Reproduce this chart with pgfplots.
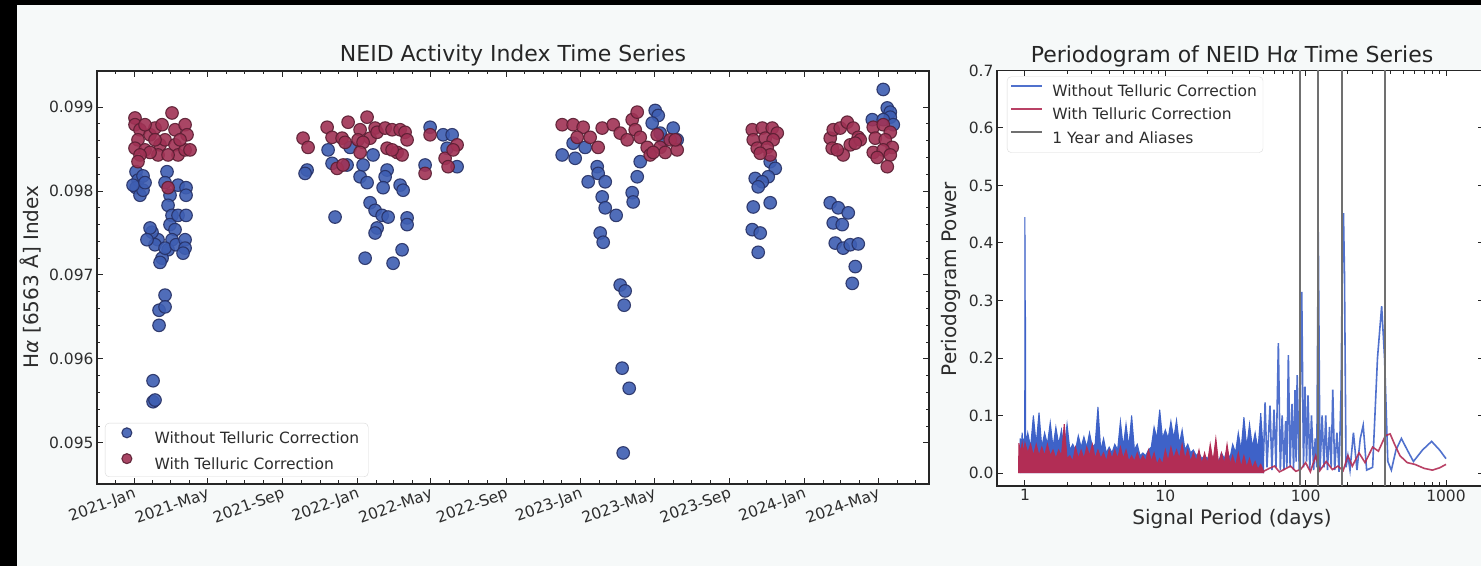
\documentclass[border=0pt]{standalone}
\usepackage{pgfplots}
\pgfplotsset{compat=1.18}
\usepackage{pgfplotstable}
\usepackage{fontspec}
\setmainfont{DejaVu Sans}

\definecolor{bg}{RGB}{246,249,249}
\definecolor{bluept}{RGB}{62,94,178}
\definecolor{blueedge}{RGB}{38,48,100}
\definecolor{redpt}{RGB}{160,50,85}
\definecolor{rededge}{RGB}{90,30,50}
\definecolor{pblue}{RGB}{62,98,200}
\definecolor{pred}{RGB}{178,45,85}
\definecolor{pgray}{RGB}{112,112,112}
\definecolor{txt}{RGB}{45,45,45}

\newcommand{\tickfont}{\fontsize{15.5bp}{18bp}\selectfont}
\newcommand{\labfont}{\fontsize{20bp}{24bp}\selectfont}
\newcommand{\titfont}{\fontsize{22bp}{26bp}\selectfont}

% days since 2021-01-01, H-alpha index
\pgfplotstableread{
day val
3.3 0.09823
6.5 0.09813
3.3 0.09804
9.8 0.09795
14.7 0.09818
14.7 0.09801
-1.6 0.09807
18.0 0.09810
53.9 0.09823
50.7 0.09810
58.8 0.09795
55.6 0.09783
62.1 0.09771
58.8 0.09760
67.0 0.09754
62.1 0.09742
55.6 0.09730
45.8 0.09720
39.2 0.09742
29.4 0.09751
34.3 0.09736
42.5 0.09715
50.7 0.09732
26.2 0.09756
21.2 0.09742
71.9 0.09807
71.9 0.09771
68.6 0.09736
85.0 0.09804
85.0 0.09795
85.0 0.09771
83.4 0.09742
83.4 0.09732
80.1 0.09726
50.7 0.09676
40.9 0.09658
50.7 0.09662
40.9 0.09640
31.1 0.09574
31.1 0.09549
34.3 0.09551
282.8 0.09825
279.5 0.09821
317.1 0.09849
323.6 0.09833
348.1 0.09831
353.1 0.09852
374.3 0.09831
369.4 0.09817
380.8 0.09810
390.6 0.09843
413.5 0.09825
410.3 0.09817
407.0 0.09804
434.8 0.09807
439.7 0.09801
328.5 0.09769
385.7 0.09786
393.9 0.09777
405.4 0.09771
415.2 0.09769
397.2 0.09756
393.9 0.09750
446.2 0.09768
446.2 0.09760
438.0 0.09730
377.6 0.09720
423.3 0.09714
483.8 0.09876
475.6 0.09831
505.1 0.09867
519.8 0.09867
511.6 0.09851
527.9 0.09829
699.6 0.09843
720.8 0.09839
717.5 0.09857
737.2 0.09852
756.8 0.09829
758.4 0.09821
742.1 0.09811
769.9 0.09811
765.0 0.09793
769.9 0.09780
787.8 0.09771
761.7 0.09750
766.6 0.09739
822.2 0.09817
814.0 0.09798
815.6 0.09787
827.1 0.09835
851.6 0.09896
856.5 0.09890
846.7 0.09881
881.0 0.09875
887.5 0.09861
864.6 0.09861
859.7 0.09869
794.4 0.09688
802.5 0.09681
800.9 0.09664
797.6 0.09589
809.1 0.09565
799.3 0.09488
1039.5 0.09835
1047.7 0.09827
1036.3 0.09817
1015.0 0.09815
1026.5 0.09811
1019.9 0.09805
1011.8 0.09781
1039.5 0.09786
1010.2 0.09754
1023.2 0.09750
1019.9 0.09727
1224.2 0.09921
1230.8 0.09899
1235.7 0.09894
1235.7 0.09888
1206.3 0.09885
1224.2 0.09885
1240.6 0.09879
1137.6 0.09786
1150.7 0.09780
1167.0 0.09774
1142.5 0.09762
1157.2 0.09760
1145.8 0.09738
1158.8 0.09732
1170.3 0.09736
1183.4 0.09737
1178.5 0.09710
1173.6 0.09690
}\blueidx

\pgfplotstableread{
day val
1.6 0.09887
1.6 0.09879
9.8 0.09873
6.5 0.09861
1.6 0.09851
18.0 0.09849
26.2 0.09867
34.3 0.09875
42.5 0.09855
39.2 0.09843
50.7 0.09861
62.1 0.09893
67.0 0.09873
67.0 0.09855
71.9 0.09843
83.4 0.09879
86.6 0.09867
83.4 0.09849
91.5 0.09849
55.6 0.09804
18.0 0.09879
26.2 0.09846
45.8 0.09879
55.6 0.09843
9.8 0.09843
34.3 0.09861
75.2 0.09861
6.5 0.09835
276.2 0.09863
284.4 0.09852
315.5 0.09876
323.6 0.09864
349.8 0.09882
369.4 0.09873
380.8 0.09888
393.9 0.09875
385.7 0.09863
397.2 0.09870
410.3 0.09875
421.7 0.09873
434.8 0.09873
442.9 0.09870
446.2 0.09861
340.0 0.09863
344.9 0.09858
366.1 0.09861
374.3 0.09858
413.5 0.09851
429.9 0.09846
438.0 0.09843
421.7 0.09849
331.8 0.09827
341.6 0.09831
369.4 0.09846
483.8 0.09867
475.6 0.09821
508.3 0.09839
513.2 0.09829
527.9 0.09855
521.4 0.09849
699.6 0.09879
717.5 0.09879
733.9 0.09876
724.1 0.09864
745.3 0.09864
758.4 0.09852
765.0 0.09875
783.0 0.09879
794.4 0.09869
805.8 0.09861
814.0 0.09885
822.2 0.09894
818.9 0.09873
827.1 0.09864
838.5 0.09852
843.4 0.09843
854.8 0.09867
859.7 0.09852
867.9 0.09846
876.1 0.09861
887.5 0.09849
884.3 0.09861
848.3 0.09846
1010.2 0.09873
1026.5 0.09875
1042.8 0.09875
1051.0 0.09869
1011.8 0.09861
1031.4 0.09863
1044.4 0.09861
1018.3 0.09851
1034.6 0.09852
1039.5 0.09843
1023.2 0.09845
1137.6 0.09863
1142.5 0.09873
1153.9 0.09875
1165.4 0.09882
1175.2 0.09875
1183.4 0.09864
1170.3 0.09855
1140.8 0.09851
1158.8 0.09843
1149.0 0.09849
1186.6 0.09861
1178.5 0.09857
1207.9 0.09876
1224.2 0.09879
1235.7 0.09870
1211.2 0.09863
1227.5 0.09861
1238.9 0.09852
1207.9 0.09846
1224.2 0.09849
1214.4 0.09840
1235.7 0.09843
1230.8 0.09829
}\redidx

\pgfplotsset{
  common/.style={
    scale only axis,
    axis background/.style={fill=white},
    axis line style={line width=1.4bp, black!85},
    every tick/.style={black!85, line width=1bp},
    major tick length=6bp,
    minor tick length=3.5bp,
    tick align=inside,
    ticklabel style={font=\tickfont, text=txt},
    /pgf/number format/assume math mode=true,
    legend cell align=left,
    legend style={draw=black!15, rounded corners=4bp, fill=white,
      font=\tickfont, text=txt, inner xsep=3bp, inner ysep=4bp,
      nodes={inner xsep=3bp, inner ysep=2bp},
      /tikz/column sep=6bp, /tikz/row sep=6bp},
  },
  dotleg/.style={legend image code/.code={\path (0bp,0bp) (31bp,11bp);
    \draw[##1,mark size=5bp] plot coordinates {(15.5bp,5.5bp)};}},
}

\begin{document}
\begin{tikzpicture}
\useasboundingbox (0,0) rectangle (1481bp,566bp);
\fill[bg] (0,0) rectangle (1481bp,566bp);

% activity index time series
\begin{axis}[common,
  at={(97bp,82bp)}, anchor=south west,
  width=832bp, height=413bp,
  xmin=-60.5, xmax=1299, ymin=0.09451, ymax=0.09943,
  xtick={0,120,243,365,485,608,730,850,973,1095,1216},
  xticklabels={2021-Jan,2021-May,2021-Sep,2022-Jan,2022-May,2022-Sep,2023-Jan,2023-May,2023-Sep,2024-Jan,2024-May},
  minor xtick={-31,31,59,90,151,181,212,273,304,334,396,424,455,516,546,577,638,669,699,761,789,820,881,911,942,1003,1034,1064,1126,1155,1186,1247,1277},
  xticklabel style={rotate=20, anchor=north east, inner sep=2bp},
  ytick={0.095,0.096,0.097,0.098,0.099},
  minor y tick num=4,
  scaled y ticks=false,
  yticklabel style={/pgf/number format/.cd, fixed, precision=3, zerofill},
  legend style={at={(0.0096,0.017)}, anchor=south west, inner xsep=6bp,
    /tikz/column sep=9bp},
]
\addplot[only marks, mark=*, mark size=6.3bp, dotleg,
  mark options={fill=bluept, draw=blueedge, line width=1.1bp, opacity=0.9}]
  table[x=day, y=val] {\blueidx};
\addlegendentry{Without Telluric Correction}
\addplot[only marks, mark=*, mark size=6.3bp, dotleg,
  mark options={fill=redpt, draw=rededge, line width=1.1bp, opacity=0.9}]
  table[x=day, y=val] {\redidx};
\addlegendentry{With Telluric Correction}
\end{axis}

% periodogram
\begin{axis}[common,
  at={(997bp,80bp)}, anchor=south west,
  width=487bp, height=415.5bp,
  xmode=log, xmin=0.632, xmax=1866, ymin=-0.0226, ymax=0.7,
  xtick={1,10,100,1000}, xticklabels={1,10,100,1000},
  ytick={0,0.1,0.2,0.3,0.4,0.5,0.6,0.7},
  yticklabel style={/pgf/number format/.cd, fixed, precision=1, zerofill},
  legend style={at={(0.0205,0.9855)}, anchor=north west, inner ysep=6bp},
  legend image code/.code={\draw[#1] (0bp,5.5bp) -- (31bp,5.5bp);},
]
% dense short-period part of the uncorrected periodogram
\addplot[pblue, fill=pblue, line width=1bp, forget plot] coordinates {
(0.92,0) (0.925,0.06) (0.94,0.045) (0.955,0.07) (0.97,0.045) (0.985,0.06) (0.995,0.045)
(1.0,0.445) (1.004,0.05) (1.008,0.30) (1.013,0.05)
(1.047,0.07) (1.096,0.045) (1.148,0.10) (1.202,0.05) (1.259,0.105) (1.318,0.045) (1.380,0.07) (1.445,0.05)
(1.514,0.088) (1.585,0.045) (1.660,0.08) (1.738,0.05) (1.820,0.075) (1.905,0.04) (1.995,0.085) (2.089,0.04)
(2.188,0.05) (2.291,0.04) (2.399,0.065) (2.512,0.045) (2.630,0.063) (2.754,0.045) (2.884,0.07) (3.020,0.045)
(3.162,0.05) (3.311,0.115) (3.467,0.04) (3.631,0.06) (3.802,0.035) (3.981,0.045) (4.169,0.035) (4.365,0.05)
(4.571,0.04) (4.786,0.09) (5.012,0.045) (5.248,0.085) (5.495,0.045) (5.754,0.10) (6.026,0.04) (6.310,0.05)
(6.607,0.03) (6.918,0.035) (7.244,0.03) (7.586,0.04) (7.943,0.045) (8.318,0.08) (8.710,0.06) (9.120,0.11)
(9.550,0.06) (10.00,0.075) (10.47,0.06) (10.96,0.09) (11.48,0.06) (12.02,0.092) (12.59,0.05) (13.18,0.075)
(13.80,0.04) (14.45,0.05) (15.14,0.035) (15.85,0.04) (16.60,0.03) (17.38,0.035) (18.20,0.025) (19.05,0.03)
(19.95,0.025) (20.89,0.035) (21.88,0.025) (22.91,0.03) (23.99,0.02) (25.12,0.035) (26.30,0.025) (27.54,0.04)
(28.84,0.025) (30.20,0.05) (31.62,0.035) (33.11,0.07) (34.67,0.04) (36.31,0.097) (38.02,0.045) (39.81,0.085)
(41.69,0.045) (43.65,0.07) (45.71,0.04) (47.86,0.104) (50.12,0.03) (50.12,0)
};
\addplot[pblue, line width=1.6bp, opacity=0.9] coordinates {
(50.12,0.03) (51.4,0.123) (53,0.01) (55.7,0.117) (57.5,0.005) (59.5,0.11) (61.5,0.01) (63.9,0.226) (66,0.005)
(68,0.1) (70,0.005) (72,0.09) (73.5,0.01) (75.3,0.205) (77.5,0.01) (80,0.12) (82,0.005) (84,0.144) (85.5,0.02)
(87,0.17) (90,0.005) (93.8,0.315) (96.5,0.01) (99,0.15) (101.5,0.02) (104,0.135) (107,0.005) (110,0.1)
(114,0.005) (117,0.06) (120,0.01) (123,0.419) (126.5,0.005) (131,0.1) (135,0.01) (139,0.1) (143,0.005)
(148,0.08) (152,0.01) (156,0.145) (161,0.005) (167,0.07) (173,0.002) (179,0.15) (183,0.40) (186,0.452)
(189,0.35) (194,0.01) (200,0.03) (207,0.005) (219,0.07) (232,0.005) (245,0.06) (257,0.083) (272,0.005)
(300,0.01) (325,0.2) (348,0.29) (365,0.2) (385,0.02) (408,0.005) (440,0.04) (481,0.06) (530,0.04)
(586,0.02) (680,0.04) (790,0.055) (900,0.04) (1000,0.025)
};
\addlegendentry{Without Telluric Correction}
% dense short-period part of the corrected periodogram
\addplot[pred, fill=pred, line width=1bp, forget plot] coordinates {
(0.90,0) (0.905,0.052) (0.93,0.035) (0.955,0.052) (0.977,0.035)
(1.000,0.052) (1.047,0.035) (1.096,0.05) (1.148,0.03) (1.202,0.05) (1.259,0.03) (1.318,0.045) (1.380,0.03)
(1.445,0.05) (1.514,0.03) (1.585,0.04) (1.660,0.025) (1.738,0.04) (1.820,0.03) (1.905,0.085) (1.995,0.025)
(2.089,0.03) (2.188,0.02) (2.291,0.045) (2.399,0.025) (2.512,0.04) (2.630,0.025) (2.754,0.045) (2.884,0.03)
(3.020,0.05) (3.162,0.025) (3.311,0.04) (3.467,0.025) (3.631,0.035) (3.802,0.02) (3.981,0.04) (4.169,0.025)
(4.365,0.04) (4.571,0.025) (4.786,0.045) (5.012,0.025) (5.248,0.04) (5.495,0.02) (5.754,0.03) (6.026,0.02)
(6.310,0.035) (6.607,0.02) (6.918,0.03) (7.244,0.02) (7.586,0.04) (7.943,0.02) (8.318,0.035) (8.710,0.015)
(9.120,0.025) (9.550,0.015) (10.00,0.04) (10.47,0.02) (10.96,0.045) (11.48,0.025) (12.02,0.04) (12.59,0.025)
(13.18,0.05) (13.80,0.025) (14.45,0.04) (15.14,0.02) (15.85,0.035) (16.60,0.02) (17.38,0.04) (18.20,0.015)
(19.05,0.035) (19.95,0.015) (20.89,0.05) (21.88,0.02) (22.91,0.06) (23.99,0.015) (25.12,0.035) (26.30,0.015)
(27.54,0.05) (28.84,0.015) (30.20,0.03) (31.62,0.012) (33.11,0.035) (34.67,0.01) (36.31,0.03) (38.02,0.01)
(39.81,0.025) (41.69,0.008) (43.65,0.02) (45.71,0.006) (47.86,0.015) (50.12,0.003) (50.12,0)
};
\addplot[pred, line width=1.6bp, opacity=0.9] coordinates {
(50.12,0.003) (55,0.008) (60,0.012) (65,0.002) (70,0.006) (78,0.012) (85,0.003) (92,0.006) (100,0.018)
(108,0.002) (118,0.03) (126,0.004) (140,0.02) (155,0.006) (170,0.012) (185,0.004) (200,0.03) (215,0.012)
(240,0.035) (265,0.018) (300,0.045) (330,0.038) (370,0.065) (400,0.068) (430,0.05) (470,0.03) (530,0.018)
(600,0.015) (700,0.008) (800,0.005) (900,0.009) (1000,0.015)
};
\addlegendentry{With Telluric Correction}
\addplot[pgray, line width=2.2bp] coordinates {(91.31,-0.1) (91.31,0.8)};
\addlegendentry{1 Year and Aliases}
\addplot[pgray, line width=2.2bp, forget plot] coordinates {(121.75,-0.1) (121.75,0.8)};
\addplot[pgray, line width=2.2bp, forget plot] coordinates {(182.63,-0.1) (182.63,0.8)};
\addplot[pgray, line width=2.2bp, forget plot] coordinates {(365.25,-0.1) (365.25,0.8)};
\end{axis}

% titles and axis labels
\node[font=\titfont, text=black!85] at (513bp,511bp) {NEID Activity Index Time Series};
\node[font=\titfont, text=black!85] at (1232bp,510bp) {Periodogram of NEID H{\itshape α} Time Series};
\node[font=\labfont, text=txt, rotate=90] at (31bp,289bp) {H{\itshape α} [6563 Å] Index};
\node[font=\labfont, text=txt, rotate=90] at (951bp,287bp) {Periodogram Power};
\node[font=\labfont, text=txt] at (1232bp,47bp) {Signal Period (days)};

\fill[black] (0,0) rectangle (17bp,566bp);
\fill[black] (0,561bp) rectangle (1481bp,566bp);
\end{tikzpicture}
\end{document}
